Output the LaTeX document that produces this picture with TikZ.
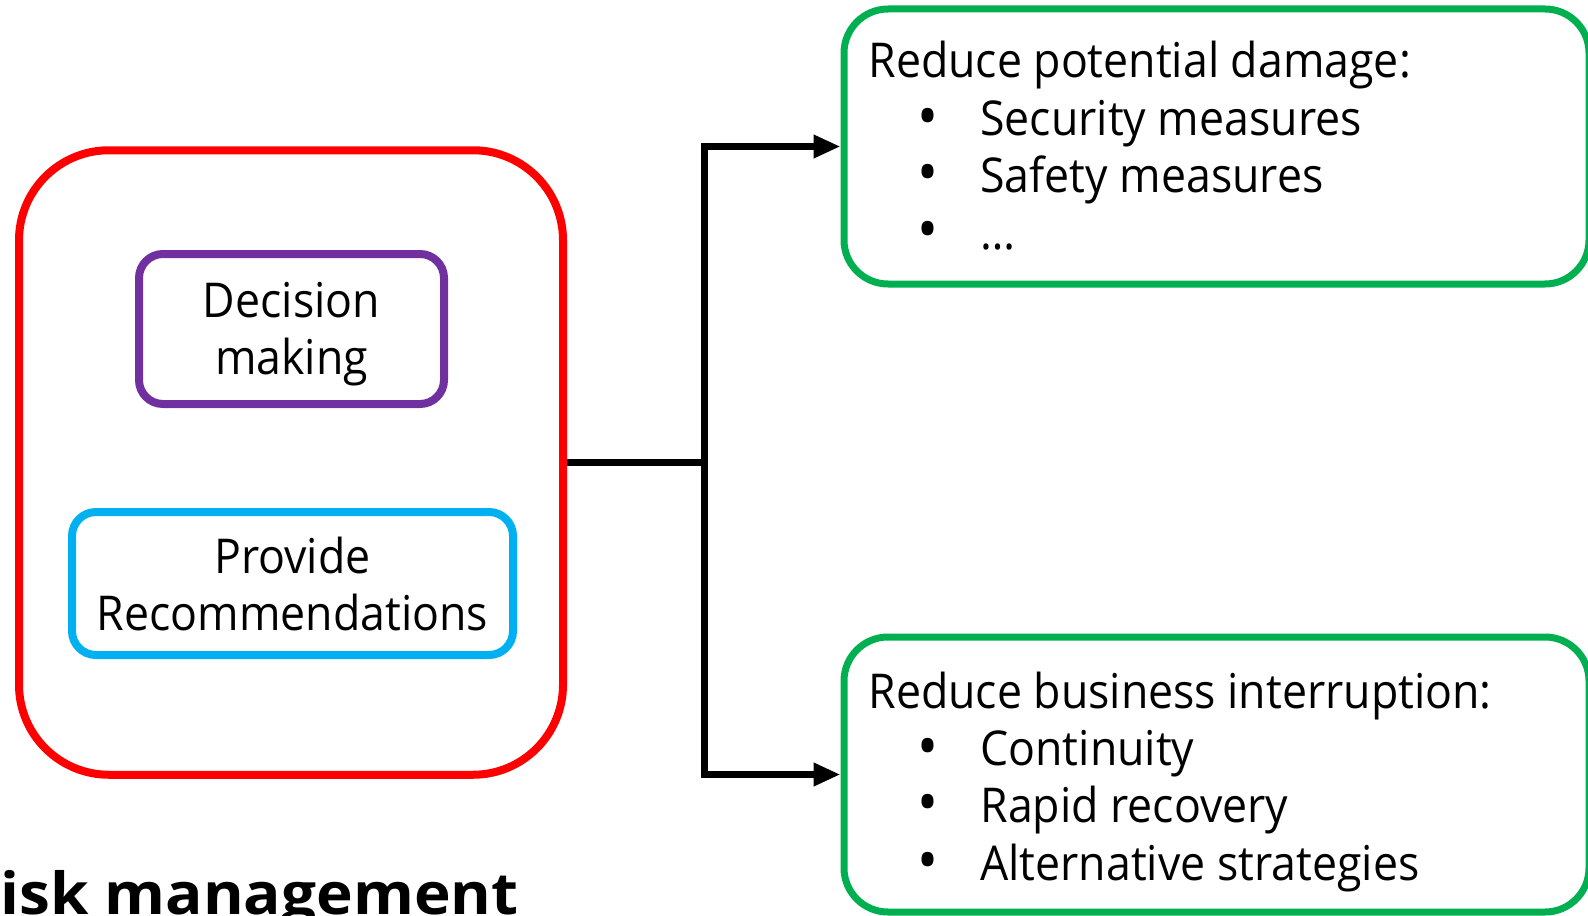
\documentclass[tikz,border=0pt]{standalone}
\usepackage{fontspec}
\setmainfont[FakeStretch=0.93]{Open Sans}
\newfontfamily\titlefont[FakeStretch=1.07]{Open Sans}
\usetikzlibrary{arrows.meta}
\definecolor{rmred}{RGB}{255,0,0}
\definecolor{rmpurple}{RGB}{112,48,160}
\definecolor{rmblue}{RGB}{0,176,240}
\definecolor{rmgreen}{RGB}{0,176,80}
\begin{document}
\begin{tikzpicture}[x=0.5pt,y=-0.5pt,
  box/.style={draw,rectangle,inner sep=0pt,fill=none},
  bigtext/.style={font=\fontsize{24pt}{28.5pt}\selectfont,inner sep=0pt},
  bul/.style={font=\fontsize{30pt}{30pt}\selectfont,inner sep=0pt,anchor=base},
  conn/.style={draw=black,line width=3.5pt,line join=miter},
  tip/.style={-{Triangle[length=13.5pt,width=11pt]}}]
\useasboundingbox (0,0) rectangle (1588,915);
% boxes
\node[box,draw=rmred,line width=4pt,rounded corners=45pt,minimum width=272pt,minimum height=312.25pt] (red) at (291,462.5) {};
\node[box,draw=rmpurple,line width=4pt,rounded corners=12pt,minimum width=152.5pt,minimum height=75pt] (dm) at (291.5,329) {};
\node[box,draw=rmblue,line width=4pt,rounded corners=12pt,minimum width=220.5pt,minimum height=71.5pt] (pr) at (292.5,583.5) {};
\node[box,draw=rmgreen,line width=3.5pt,rounded corners=22pt,minimum width=372.5pt,minimum height=137.5pt] (g1) at (1216.5,146.5) {};
\node[box,draw=rmgreen,line width=3.5pt,rounded corners=22pt,minimum width=372.5pt,minimum height=137.5pt] (g2) at (1216.5,774.5) {};
% inner texts
\node[bigtext,align=center,yshift=-2.5pt] (dmt) at (dm.center) {Decision\\making};
\node[bigtext,align=center] (prt) at (pr.center) {Provide\\Recommendations};
% green 1 texts
\node[bigtext,anchor=base west] (t1) at (868,78) {Reduce potential damage:};
\node[bul] (b11) at (928,137) {•};
\node[bigtext,anchor=base west] (i11) at (980,135.5) {Security measures};
\node[bul] (b12) at (928,193.5) {•};
\node[bigtext,anchor=base west] (i12) at (980,192) {Safety measures};
\node[bul] (b13) at (928,250.5) {•};
\node[bigtext,anchor=base west] (i13) at (980,249) {…};
% green 2 texts
\node[bigtext,anchor=base west] (t2) at (868,708) {Reduce business interruption:};
\node[bul] (b21) at (928,767) {•};
\node[bigtext,anchor=base west] (i21) at (980,765.5) {Continuity};
\node[bul] (b22) at (928,823.5) {•};
\node[bigtext,anchor=base west] (i22) at (980,822) {Rapid recovery};
\node[bul] (b23) at (928,881.5) {•};
\node[bigtext,anchor=base west] (i23) at (980,880) {Alternative strategies};
% title
\node[anchor=base west,inner sep=0pt,font=\fontsize{29pt}{34pt}\titlefont\bfseries] (title) at (0,914) {isk management};
% connectors
\coordinate (jx) at (704,0);
\coordinate (j) at (red.east -| jx);
\draw[conn] (red.east) -- (j);
\draw[conn,tip] (j) |- (g1.west);
\draw[conn,tip] (j) |- (g2.west);
\end{tikzpicture}
\end{document}
